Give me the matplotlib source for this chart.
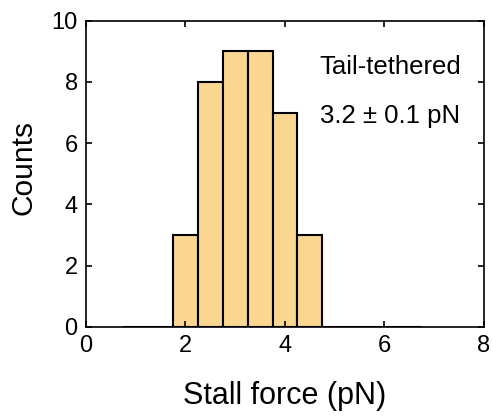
import matplotlib
matplotlib.use("Agg")
import matplotlib.pyplot as plt

plt.rcParams['font.family'] = ['Liberation Sans', 'DejaVu Sans']

# histogram bins (left edges) and counts
bin_edges = [0.75, 1.25, 1.75, 2.25, 2.75, 3.25, 3.75, 4.25, 4.75, 5.25, 5.75, 6.25, 6.75]
counts = [0, 0, 3, 8, 9, 9, 7, 3, 0, 0, 0, 0]
bin_width = 0.5

fig = plt.figure(figsize=(4.92, 4.19), dpi=100)
ax = fig.add_axes([0.1748, 0.2196, 0.8089, 0.731])

ax.bar(bin_edges[:-1], counts, width=bin_width, align='edge',
       color='#fbd690', edgecolor='black', linewidth=1.5)

ax.set_xlim(0, 8)
ax.set_ylim(0, 10)
ax.set_xticks([0, 2, 4, 6, 8])
ax.set_yticks([0, 2, 4, 6, 8, 10])
ax.tick_params(direction='in', top=True, right=True, labelsize=17, length=4, width=1.2, pad=6)
for s in ax.spines.values():
    s.set_linewidth(1.2)

ax.set_xlabel('Stall force (pN)', fontsize=22, labelpad=17)
ax.set_ylabel('Counts', fontsize=21.5, labelpad=10)
ax.yaxis.label.set_y(0.522)

ax.text(0.764, 0.849, 'Tail-tethered', transform=ax.transAxes, fontsize=18.5, ha='center', va='center')
ax.text(0.764, 0.689, '3.2 ± 0.1 pN', transform=ax.transAxes, fontsize=18.5, ha='center', va='center')

plt.savefig('out.png', dpi=100)
